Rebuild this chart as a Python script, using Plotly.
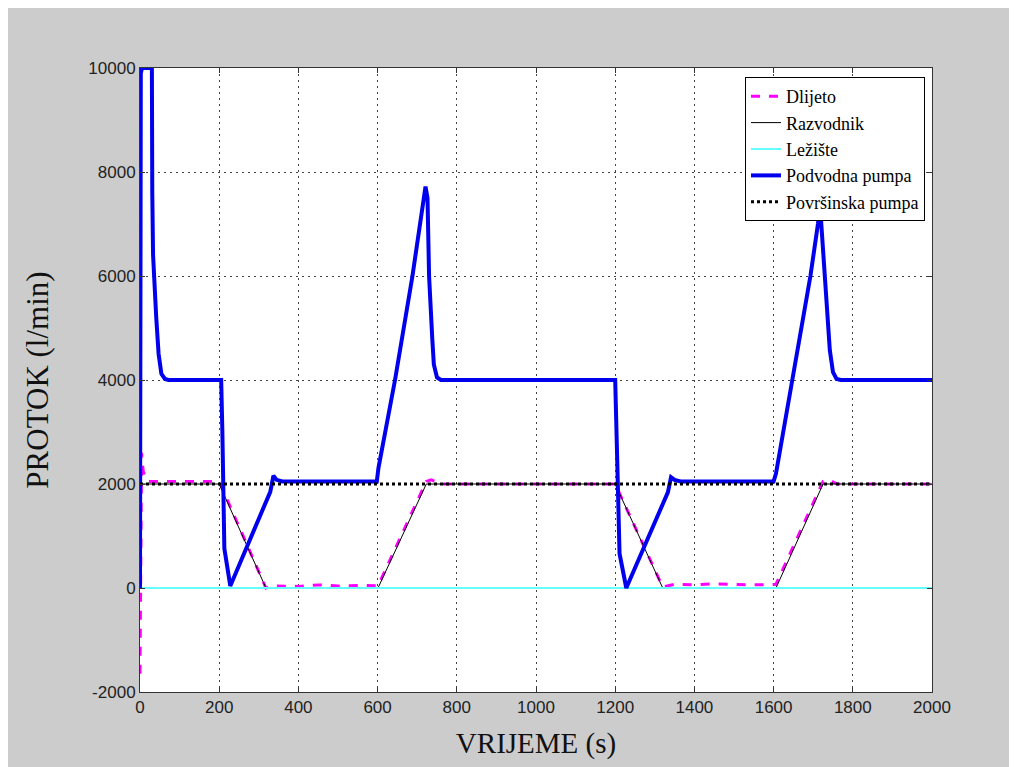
import plotly.graph_objects as go

# ---- data ----
t_dlijeto = [0, 4, 8, 14, 20, 200, 318, 330, 400, 450, 500, 560, 601, 723, 735, 760,
             1200, 1320, 1350, 1400, 1450, 1500, 1550, 1606, 1725, 1740, 1760, 2000]
v_dlijeto = [-1650, 2600, 2250, 2100, 2050, 2050, 0, 40, 30, 60, 40, 50, 40, 2050, 2080, 2000,
             2000, 20, 70, 60, 80, 70, 60, 70, 2050, 2080, 2000, 2000]

t_razvodnik = [0, 200, 318, 601, 723, 1200, 1320, 1606, 1725, 2000]
v_razvodnik = [2000, 2000, 0, 0, 2000, 2000, 0, 0, 2000, 2000]

t_leziste = [0, 2000]
v_leziste = [0, 0]

t_podvodna = [0, 2, 5, 30, 31, 33, 41, 47, 54, 63, 72,
              205, 208, 213, 228, 329, 337, 345, 360,
              598, 602, 644, 688, 715, 721, 726, 730, 738, 742, 750, 760,
              1200, 1204, 1211, 1228, 1333, 1341, 1350, 1365,
              1600, 1606, 1647, 1693, 1712, 1716, 1720, 1729, 1742, 1750, 1759, 1770, 2000]
v_podvodna = [0, 9900, 10000, 10000, 7600, 6400, 5200, 4500, 4120, 4020, 4000,
              4000, 3000, 760, 40, 1850, 2160, 2080, 2050,
              2050, 2300, 4000, 6000, 7350, 7720, 7500, 6000, 4800, 4300, 4050, 4000,
              4000, 3000, 660, 0, 1840, 2130, 2080, 2050,
              2050, 2200, 4000, 6000, 7000, 7300, 7050, 6000, 4570, 4150, 4020, 4000, 4000]

t_povrsinska = [0, 2000]
v_povrsinska = [2000, 2000]

x_ticks = [0, 200, 400, 600, 800, 1000, 1200, 1400, 1600, 1800, 2000]
x_tick_labels = ["0", "200", "400", "600", "800", "1000", "1200", "1400", "1600", "1800", "2000"]
y_ticks = [-2000, 0, 2000, 4000, 6000, 8000, 10000]
y_tick_labels = ["-2000", "0", "2000", "4000", "6000", "8000", "10000"]

names = ["Dlijeto", "Razvodnik", "Ležište", "Podvodna pumpa", "Površinska pumpa"]

# ---- figure ----
fig = go.Figure()
fig.add_trace(go.Scatter(x=t_dlijeto, y=v_dlijeto, mode="lines", name=names[0],
                         line=dict(color="#ff00ff", width=3, dash="dash")))
fig.add_trace(go.Scatter(x=t_razvodnik, y=v_razvodnik, mode="lines", name=names[1],
                         line=dict(color="black", width=1)))
fig.add_trace(go.Scatter(x=t_leziste, y=v_leziste, mode="lines", name=names[2],
                         line=dict(color="#66ffff", width=2)))
fig.add_trace(go.Scatter(x=t_podvodna, y=v_podvodna, mode="lines", name=names[3],
                         line=dict(color="#0000ee", width=4)))
fig.add_trace(go.Scatter(x=t_povrsinska, y=v_povrsinska, mode="lines", name=names[4],
                         line=dict(color="black", width=3, dash="dot")))

# page has an 8px body margin; plot area in the screenshot spans x 140..932, y 68..692
OFF = 8
W, H = 1017, 767
L, T = 140 - OFF, 68 - OFF
R = W - (932 - OFF)
B = H - (692 - OFF)
pw, ph = W - L - R, H - T - B


def px_x(px):
    return (px - OFF - L) / pw


def px_y(py):
    return (H - B - (py - OFF)) / ph


axis_common = dict(
    showline=True, linecolor="#333333", linewidth=1, mirror="ticks",
    ticks="inside", ticklen=5, tickcolor="#333333",
    showgrid=True, gridcolor="#444444", gridwidth=1, griddash="2px,4px",
    zeroline=False,
    tickfont=dict(family="Liberation Sans, Arial, sans-serif", size=17, color="#222222"),
)

serif = "Liberation Serif, Times New Roman, serif"

fig.update_layout(
    width=W, height=H,
    margin=dict(l=L, r=R, t=T, b=B),
    paper_bgcolor="#cccccc",
    plot_bgcolor="white",
    showlegend=True,
    legend=dict(
        x=px_x(925), y=px_y(77), xanchor="right", yanchor="top",
        bgcolor="white", bordercolor="black", borderwidth=1,
        font=dict(family=serif, size=18, color="black"),
        tracegroupgap=0,
    ),
    xaxis=dict(axis_common, range=[0, 2000], tickvals=x_ticks, ticktext=x_tick_labels,
               title=dict(text="VRIJEME (s)", standoff=16,
                          font=dict(family=serif, size=29, color="#111111"))),
    yaxis=dict(axis_common, range=[-2000, 10000], tickvals=y_ticks, ticktext=y_tick_labels,
               title=dict(text="PROTOK (l/min)", standoff=30,
                          font=dict(family=serif, size=31, color="#111111"))),
)

fig.write_html("out.html")
